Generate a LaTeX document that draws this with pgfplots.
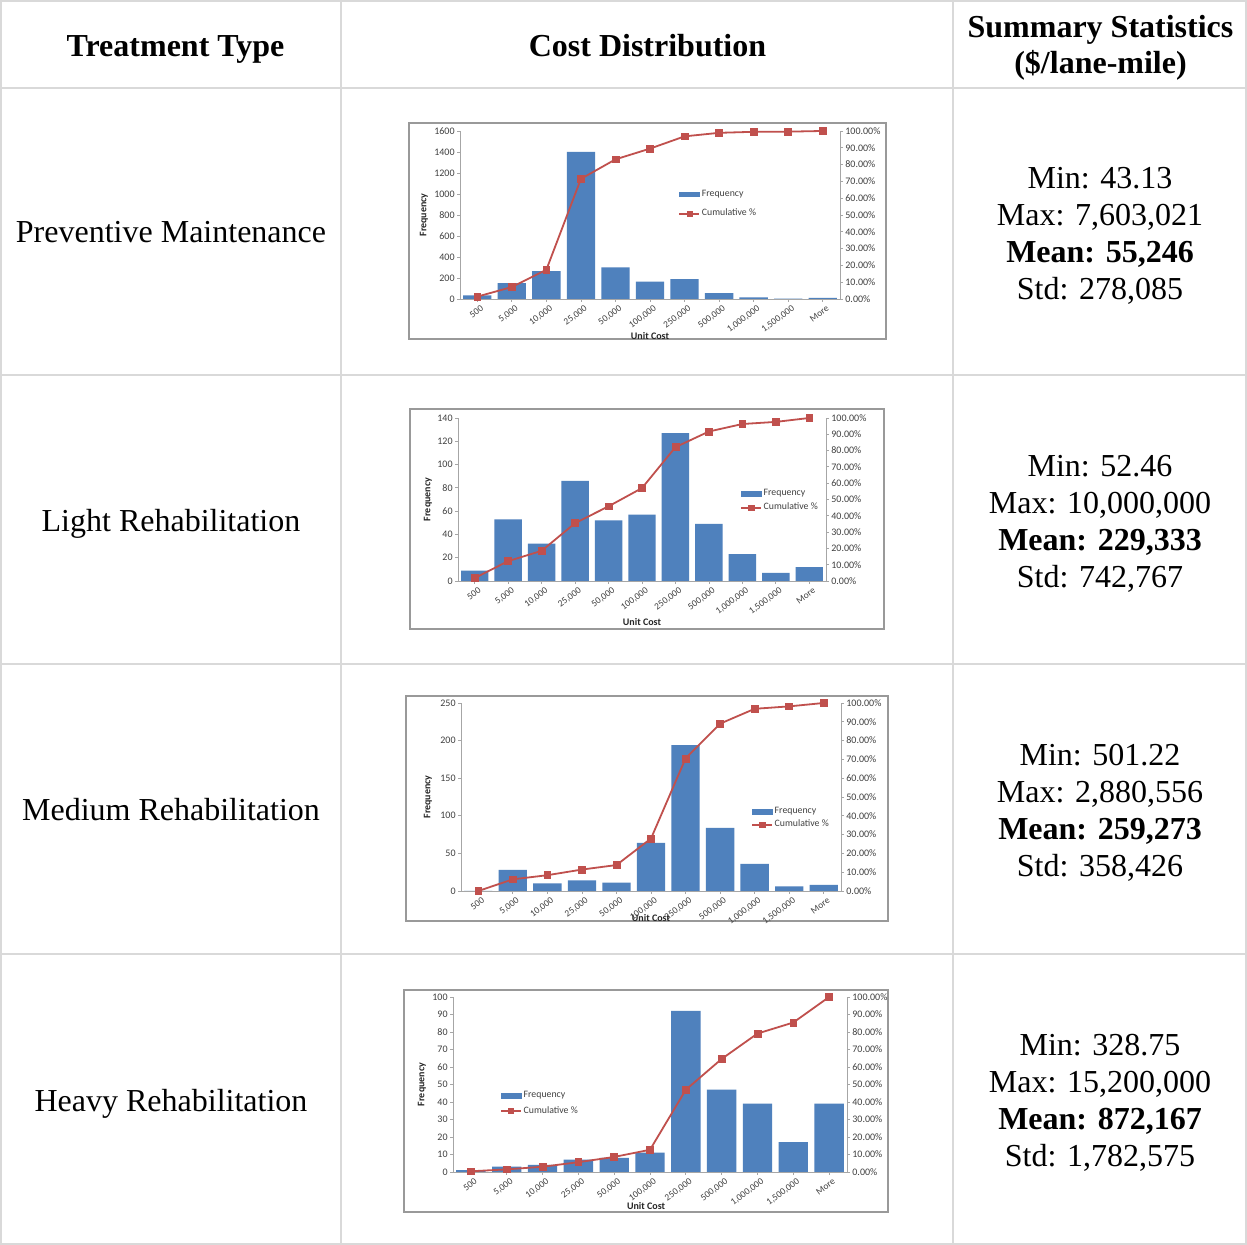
\documentclass[border=0pt]{standalone}
\usepackage{pgfplots}
\pgfplotsset{compat=1.18}
\usepackage{fontspec}
\setmainfont{Liberation Serif}
\newfontfamily\chartfont{Carlito}
\definecolor{barblue}{HTML}{4F81BD}
\definecolor{linered}{HTML}{C0504D}
\definecolor{rulegray}{HTML}{D9D9D9}

\pgfplotsset{
  cbase/.style={
    scale only axis, xmin=-0.5, xmax=10.5, clip=false,
    /pgf/number format/assume math mode=true,
    /pgf/number format/1000 sep={},
    tick label style={font=\chartfont\fontsize{5}{6}\selectfont, text=black!75, inner sep=1pt},
    label style={font=\chartfont\bfseries\fontsize{5}{6}\selectfont, text=black!85, inner sep=0pt},
    axis line style={draw=black!35, line width=0.4pt},
    tick style={draw=black!35, line width=0.4pt},
    tick align=outside, major tick length=1.5pt,
  },
  barax/.style={cbase, axis x line*=bottom, axis y line*=left, ymin=0,
    xtick={0,...,10},
    xticklabels={500,{5,000},{10,000},{25,000},{50,000},{100,000},{250,000},{500,000},{1,000,000},{1,500,000},More},
    xticklabel style={rotate=36, anchor=north east, font=\chartfont\fontsize{4.7}{5}\selectfont, xshift=1.5pt, yshift=-1pt},
    xlabel={Unit Cost}, ylabel={Frequency},
  },
  lineax/.style={cbase, axis y line*=right, axis x line=none, ymin=0, ymax=100, ytick={0,10,...,100},
    yticklabel={\pgfmathprintnumber[fixed,fixed zerofill,precision=2]{\tick}\%},
    legend cell align=left,
    legend style={draw=none, fill=none, inner sep=0pt, font=\chartfont\fontsize{4.9}{5.5}\selectfont, text=black!75, nodes={inner sep=0.8pt}},
  },
  freqimg/.style={legend image code/.code={\fill[barblue] (0pt,-1pt) rectangle (10pt,1.2pt);}},
  cumline/.style={color=linered, line width=0.9pt, mark=square*, mark size=1.7pt, mark options={fill=linered, line width=0.3pt},
    legend image code/.code={\draw[mark repeat=2,mark phase=2,mark size=1.3pt,##1] plot coordinates {(0pt,0pt) (5pt,0pt) (10pt,0pt)};}},
  freqbar/.style={ybar, bar width=0.82, fill=barblue, draw=none, bar shift=0pt},
}

\tikzset{
  tt/.style={font=\fontsize{16}{18}\selectfont, anchor=base, inner sep=0pt},
  tb/.style={font=\fontsize{16}{18}\selectfont\bfseries, anchor=base, inner sep=0pt},
  chartbox/.style={draw=black!40, line width=0.6pt, fill=white},
}

\newcommand\stats[5]{%
  \node[tt] at (550pt,#1) {Min: #2};
  \node[tt, yshift=-18.35pt] at (550pt,#1) {Max: #3};
  \node[tb, yshift=-36.7pt] at (550pt,#1) {Mean: #4};
  \node[tt, yshift=-55.05pt] at (550pt,#1) {Std: #5};
}

\begin{document}
\begin{tikzpicture}
\useasboundingbox (0pt,0pt) rectangle (623.5pt,622.5pt);
\fill[white] (0pt,0pt) rectangle (623.5pt,622.5pt);

% table rules
\begin{scope}[draw=rulegray, line width=1pt]
\draw (0.5pt,0.5pt) rectangle (623pt,622pt);
\draw (170.5pt,0.5pt) -- (170.5pt,622pt);
\draw (476.5pt,0.5pt) -- (476.5pt,622pt);
\draw (0.5pt,578.5pt) -- (623pt,578.5pt);
\draw (0.5pt,435pt) -- (623pt,435pt);
\draw (0.5pt,290.5pt) -- (623pt,290.5pt);
\draw (0.5pt,145.5pt) -- (623pt,145.5pt);
\end{scope}

% header
\node[tb] at (87.75pt,594pt) {Treatment Type};
\node[tb] at (323.75pt,594pt) {Cost Distribution};
\node[tb] at (550.25pt,603.5pt) {Summary Statistics};
\node[tb] at (550.25pt,585.5pt) {(\$/lane-mile)};

% row labels
\node[tt] at (85.5pt,501pt) {Preventive Maintenance};
\node[tt] at (85.5pt,356.5pt) {Light Rehabilitation};
\node[tt] at (85.5pt,212pt) {Medium Rehabilitation};
\node[tt] at (85.5pt,66.5pt) {Heavy Rehabilitation};

% statistics
\stats{528pt}{43.13}{7,603,021}{55,246}{278,085}
\stats{384pt}{52.46}{10,000,000}{229,333}{742,767}
\stats{239.5pt}{501.22}{2,880,556}{259,273}{358,426}
\stats{94.5pt}{328.75}{15,200,000}{872,167}{1,782,575}

% chart boxes
\draw[chartbox] (204.5pt,453pt) rectangle (443pt,561pt);
\draw[chartbox] (205pt,308pt) rectangle (442pt,418pt);
\draw[chartbox] (203pt,162pt) rectangle (444pt,274.5pt);
\draw[chartbox] (202pt,16.5pt) rectangle (444pt,127.5pt);

% ---------- Chart 1: Preventive Maintenance
\begin{axis}[barax, at={(230pt,473pt)}, anchor=south west, width=190pt, height=84pt,
  ymax=1600, ytick={0,200,...,1600},
  xlabel style={at={(axis description cs:0.5,-0.22)},anchor=center},
  ylabel style={at={(axis description cs:-0.095,0.5)},anchor=center}]
\addplot[freqbar] coordinates {(0,35) (1,150) (2,265) (3,1400) (4,300) (5,165) (6,190) (7,55) (8,15) (9,3) (10,10)};
\end{axis}
\begin{axis}[lineax, at={(230pt,473pt)}, anchor=south west, width=190pt, height=84pt,
  legend style={at={(axis description cs:0.574,0.662)}, anchor=north west, row sep=3.4pt}]
\addlegendimage{freqimg}\addlegendentry{Frequency}
\addplot[cumline] coordinates {(0,1.4) (1,7.1) (2,17.4) (3,71.5) (4,83.1) (5,89.5) (6,96.8) (7,98.9) (8,99.5) (9,99.6) (10,100)};
\addlegendentry{Cumulative \%}
\end{axis}

% ---------- Chart 2: Light Rehabilitation
\begin{axis}[barax, at={(229pt,332pt)}, anchor=south west, width=184pt, height=81.5pt,
  ymax=140, ytick={0,20,...,140},
  xlabel style={at={(axis description cs:0.5,-0.252)},anchor=center},
  ylabel style={at={(axis description cs:-0.082,0.5)},anchor=center}]
\addplot[freqbar] coordinates {(0,9) (1,53) (2,32) (3,86) (4,52) (5,57) (6,127) (7,49) (8,23) (9,7) (10,12)};
\end{axis}
\begin{axis}[lineax, at={(229pt,332pt)}, anchor=south west, width=184pt, height=81.5pt,
  legend style={at={(axis description cs:0.766,0.575)}, anchor=north west, row sep=0.7pt}]
\addlegendimage{freqimg}\addlegendentry{Frequency}
\addplot[cumline] coordinates {(0,1.8) (1,12.2) (2,18.5) (3,35.5) (4,45.8) (5,57.0) (6,82.1) (7,91.7) (8,96.3) (9,97.6) (10,100)};
\addlegendentry{Cumulative \%}
\end{axis}

% ---------- Chart 3: Medium Rehabilitation
\begin{axis}[barax, at={(230.5pt,177pt)}, anchor=south west, width=190pt, height=94pt,
  ymax=250, ytick={0,50,...,250},
  xlabel style={at={(axis description cs:0.5,-0.144)},anchor=center},
  ylabel style={at={(axis description cs:-0.087,0.5)},anchor=center}]
\addplot[freqbar] coordinates {(0,0) (1,28) (2,10) (3,14) (4,11) (5,64) (6,194) (7,84) (8,36) (9,6) (10,8)};
\end{axis}
\begin{axis}[lineax, at={(230.5pt,177pt)}, anchor=south west, width=190pt, height=94pt,
  legend style={at={(axis description cs:0.763,0.455)}, anchor=north west, row sep=0pt}]
\addlegendimage{freqimg}\addlegendentry{Frequency}
\addplot[cumline] coordinates {(0,0) (1,6.2) (2,8.4) (3,11.4) (4,13.8) (5,27.9) (6,70.5) (7,89.0) (8,96.9) (9,98.2) (10,100)};
\addlegendentry{Cumulative \%}
\end{axis}

% ---------- Chart 4: Heavy Rehabilitation
\begin{axis}[barax, at={(226.5pt,36.5pt)}, anchor=south west, width=197pt, height=87.5pt,
  ymax=100, ytick={0,10,...,100},
  xlabel style={at={(axis description cs:0.49,-0.197)},anchor=center},
  ylabel style={at={(axis description cs:-0.079,0.5)},anchor=center}]
\addplot[freqbar] coordinates {(0,1) (1,3) (2,4) (3,7) (4,8) (5,11) (6,92) (7,47) (8,39) (9,17) (10,39)};
\end{axis}
\begin{axis}[lineax, at={(226.5pt,36.5pt)}, anchor=south west, width=197pt, height=87.5pt,
  legend style={at={(axis description cs:0.119,0.472)}, anchor=north west, row sep=1.2pt}]
\addlegendimage{freqimg}\addlegendentry{Frequency}
\addplot[cumline] coordinates {(0,0.4) (1,1.5) (2,3.0) (3,5.6) (4,8.6) (5,12.7) (6,47.0) (7,64.6) (8,79.1) (9,85.4) (10,100)};
\addlegendentry{Cumulative \%}
\end{axis}

\end{tikzpicture}
\end{document}
